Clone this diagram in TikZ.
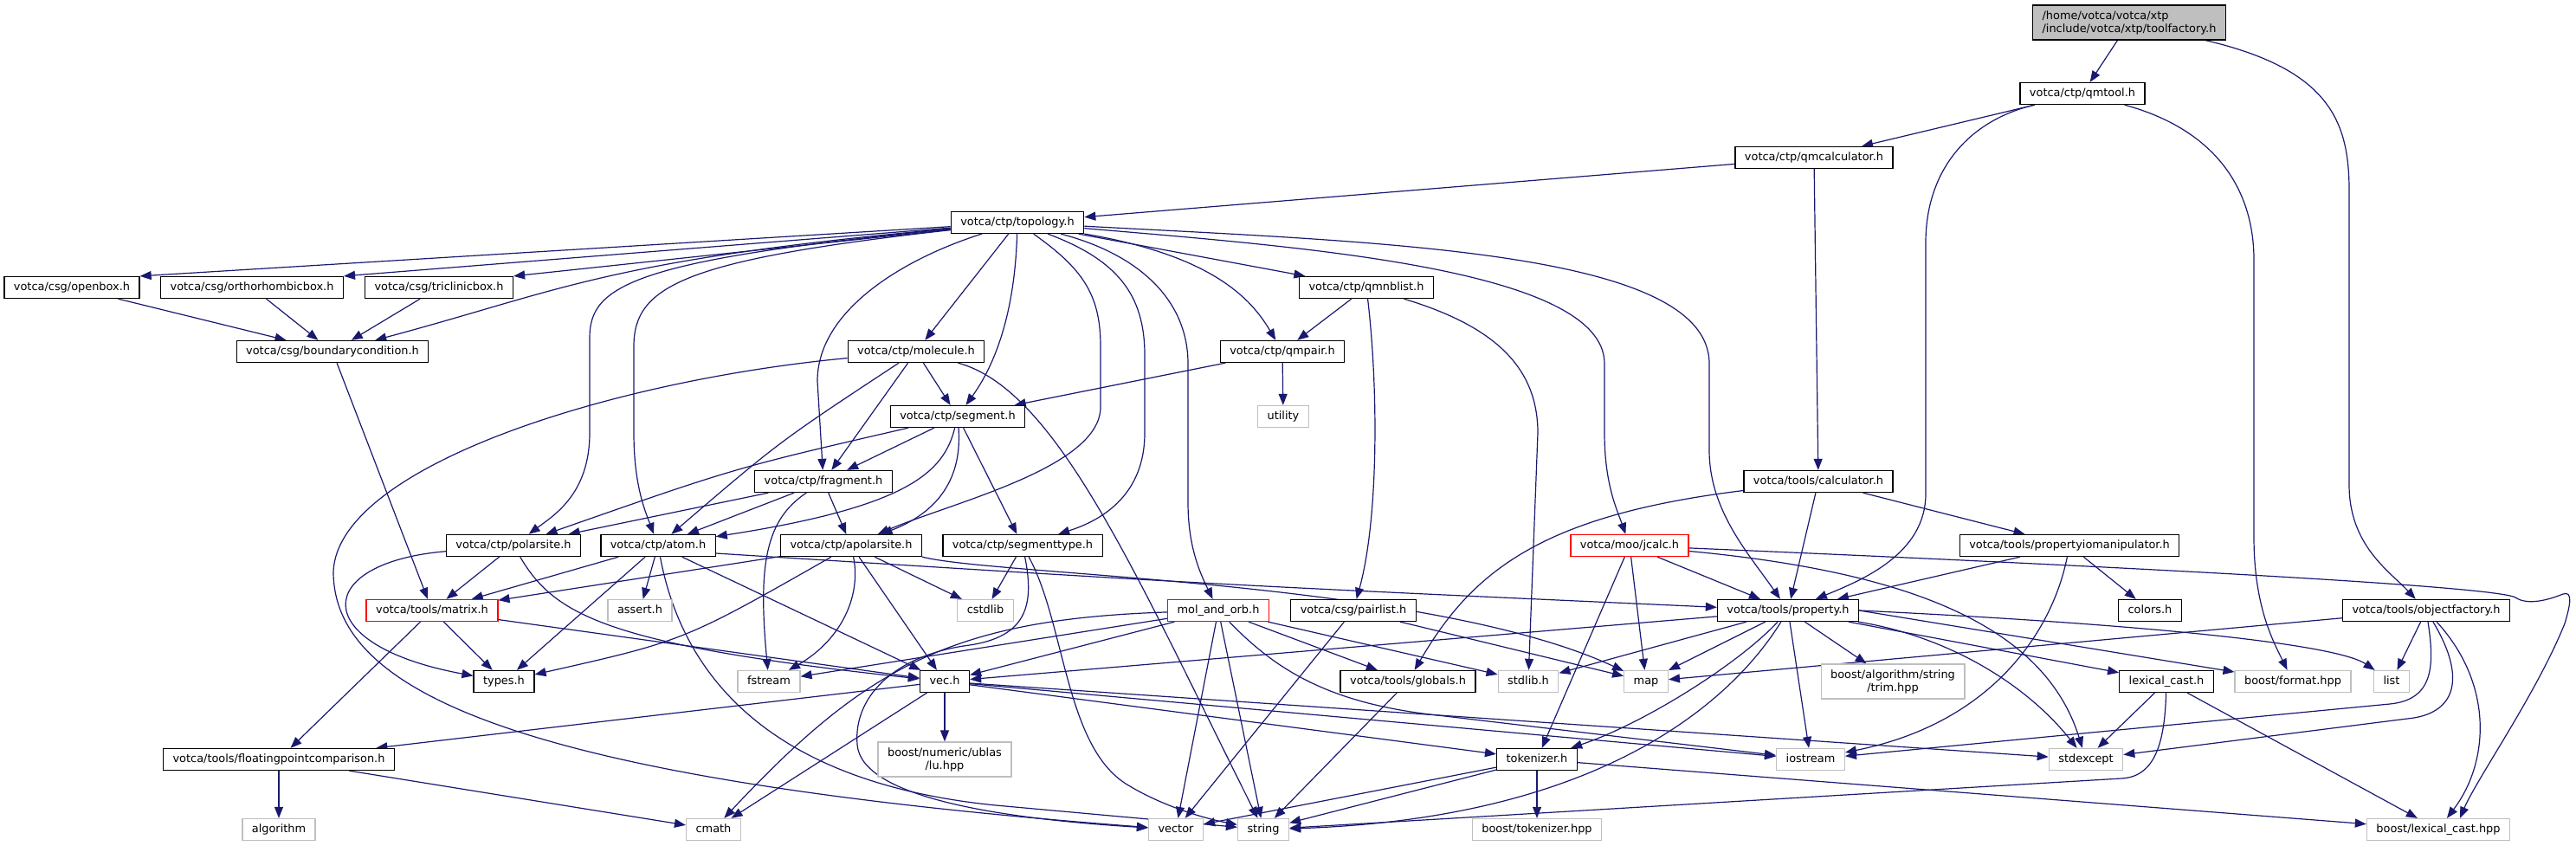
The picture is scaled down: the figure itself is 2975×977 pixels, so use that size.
\documentclass[tikz,border=0pt]{standalone}
\usepackage{fontspec}
\setmainfont{DejaVu Sans}
\usetikzlibrary{arrows.meta,backgrounds}

\definecolor{incblue}{HTML}{191970}
\definecolor{grey75}{HTML}{BFBFBF}

\tikzset{
    hdr/.style={draw=black, line width=1.3pt, fill=white, inner xsep=11pt, inner ysep=0pt,
        minimum height=25pt, text height=9.8pt, text depth=3.1pt,
        font=\fontsize{12.9pt}{15pt}\selectfont},
    sys/.style={hdr, draw=grey75},
    trunc/.style={hdr, draw=red},
    twoline/.style={text height=, text depth=, minimum height=40pt},
    root/.style={hdr, twoline, fill=grey75, align=left},
    dep/.style={incblue, line width=1.2pt, -{Triangle[length=13pt,width=10pt]}},
}

\begin{document}
\begin{tikzpicture}[x=1pt,y=-1pt]
    \useasboundingbox (0,0) rectangle (2975,977);

    % include files, row by row
    \node[root] (tf) at (2459,26) {/home/votca/votca/xtp\\/include/votca/xtp/toolfactory.h};
    \node[hdr] (qmtool) at (2405,108) {votca/ctp/qmtool.h};
    \node[hdr] (qmcalc) at (2095,182) {votca/ctp/qmcalculator.h};
    \node[hdr] (topo) at (1175,257) {votca/ctp/topology.h};

    \node[hdr] (openbox) at (83,332) {votca/csg/openbox.h};
    \node[hdr] (ortho) at (291,332) {votca/csg/orthorhombicbox.h};
    \node[hdr] (tricl) at (507,332) {votca/csg/triclinicbox.h};
    \node[hdr] (nblist) at (1578,332) {votca/ctp/qmnblist.h};

    \node[hdr] (bound) at (384,406) {votca/csg/boundarycondition.h};
    \node[hdr] (molec) at (1058,406) {votca/ctp/molecule.h};
    \node[hdr] (qmpair) at (1481,406) {votca/ctp/qmpair.h};

    \node[hdr] (segm) at (1106,481) {votca/ctp/segment.h};
    \node[sys] (utility) at (1482,481) {utility};

    \node[hdr] (frag) at (951,556) {votca/ctp/fragment.h};
    \node[hdr] (calc) at (2100,556) {votca/tools/calculator.h};

    \node[hdr] (polar) at (593,630) {votca/ctp/polarsite.h};
    \node[hdr] (atom) at (760,630) {votca/ctp/atom.h};
    \node[hdr] (apolar) at (983,630) {votca/ctp/apolarsite.h};
    \node[hdr] (segtype) at (1181,630) {votca/ctp/segmenttype.h};
    \node[trunc] (jcalc) at (1882,630) {votca/moo/jcalc.h};
    \node[hdr] (propio) at (2390,630) {votca/tools/propertyiomanipulator.h};

    \node[trunc] (matrix) at (499,705) {votca/tools/matrix.h};
    \node[sys] (assert) at (739,705) {assert.h};
    \node[sys] (cstdlib) at (1138,705) {cstdlib};
    \node[trunc] (molorb) at (1407,705) {mol\_and\_orb.h};
    \node[hdr] (pairlist) at (1563,705) {votca/csg/pairlist.h};
    \node[hdr] (prop) at (2065,705) {votca/tools/property.h};
    \node[hdr] (colors) at (2483,705) {colors.h};
    \node[hdr] (objfac) at (2802,705) {votca/tools/objectfactory.h};

    \node[hdr] (types) at (582,787) {types.h};
    \node[sys] (fstream) at (888,787) {fstream};
    \node[hdr] (vec) at (1091,787) {vec.h};
    \node[hdr] (globals) at (1626,787) {votca/tools/globals.h};
    \node[sys] (stdlib) at (1765,787) {stdlib.h};
    \node[sys] (map) at (1901,787) {map};
    \node[sys, twoline, align=center] (trim) at (2186,787) {boost/algorithm/string\\/trim.hpp};
    \node[hdr] (lexcast) at (2502,787) {lexical\_cast.h};
    \node[sys] (format) at (2648,787) {boost/format.hpp};
    \node[sys] (list) at (2762,787) {list};

    \node[hdr] (fpcomp) at (322,877) {votca/tools/floatingpointcomparison.h};
    \node[sys, twoline, align=center] (ublas) at (1091,877) {boost/numeric/ublas\\/lu.hpp};
    \node[hdr] (tokenizer) at (1775,877) {tokenizer.h};
    \node[sys] (iostream) at (2091,877) {iostream};
    \node[sys] (stdexcept) at (2409,877) {stdexcept};

    \node[sys] (algorithm) at (322,958) {algorithm};
    \node[sys] (cmath) at (824,958) {cmath};
    \node[sys] (vector) at (1358,958) {vector};
    \node[sys] (string) at (1459,958) {string};
    \node[sys] (boosttok) at (1775,958) {boost/tokenizer.hpp};
    \node[sys] (boostlex) at (2816,958) {boost/lexical\_cast.hpp};

    \begin{scope}[on background layer]
    % straight includes
    \foreach \a/\b in {tf/qmtool, qmtool/qmcalc, qmcalc/topo, qmcalc/calc, topo/molec, topo/nblist,
        openbox/bound, ortho/bound, tricl/bound, bound/matrix, molec/segm, molec/frag,
        nblist/qmpair, qmpair/segm, qmpair/utility, segm/frag, segm/segtype,
        frag/atom, frag/polar, frag/apolar, polar/matrix, atom/matrix, atom/types, atom/assert,
        atom/vec, apolar/matrix, apolar/vec, apolar/cstdlib, segtype/cstdlib,
        molorb/fstream, molorb/vec, molorb/vector, molorb/string, molorb/globals, molorb/stdlib,
        pairlist/vector, pairlist/map, calc/prop, calc/propio, jcalc/prop, jcalc/map,
        jcalc/tokenizer, propio/prop, propio/colors, prop/vec, prop/stdlib, prop/map,
        prop/iostream, prop/trim, prop/lexcast, objfac/map, objfac/list,
        matrix/types, matrix/vec, matrix/fpcomp, vec/fpcomp, vec/ublas, vec/cmath,
        vec/tokenizer, vec/iostream, vec/stdexcept, fpcomp/algorithm, fpcomp/cmath,
        globals/string, tokenizer/boosttok, tokenizer/vector, tokenizer/string,
        tokenizer/boostlex, lexcast/stdexcept, lexcast/boostlex}
        \draw[dep] (\a) -- (\b);

    % topology fan
    \draw[dep] (topo) -- (openbox.north east);
    \draw[dep] (topo) -- (ortho.north east);
    \draw[dep] (topo) -- (tricl.north east);
    \draw[dep] (topo) .. controls (700,300) and (650,335) .. (bound);
    \draw[dep] (topo) .. controls (730,300) and (681,330) .. (681,390) -- (681,500) .. controls (681,570) and (640,595) .. (polar);
    \draw[dep] (topo) .. controls (790,300) and (732,330) .. (732,400) -- (732,500) .. controls (732,560) and (745,590) .. (atom);
    \draw[dep] (topo) .. controls (1040,300) and (944,360) .. (944,440) -- (frag);
    \draw[dep] (topo) .. controls (1172,360) and (1150,420) .. (segm);
    \draw[dep] (topo) .. controls (1250,310) and (1271,340) .. (1271,400) -- (1271,470) .. controls (1271,540) and (1100,580) .. (apolar);
    \draw[dep] (topo) .. controls (1290,300) and (1322,340) .. (1322,410) -- (1322,500) .. controls (1322,570) and (1275,600) .. (segtype);
    \draw[dep] (topo) .. controls (1320,295) and (1372,350) .. (1372,420) -- (1372,580) .. controls (1372,630) and (1385,660) .. (molorb);
    \draw[dep] (topo) .. controls (1400,295) and (1445,345) .. (qmpair);
    \draw[dep] (topo) .. controls (1500,285) and (1853,310) .. (1853,420) -- (1853,500) .. controls (1853,560) and (1868,590) .. (jcalc);
    \draw[dep] (topo) .. controls (1600,280) and (1974,290) .. (1974,420) -- (1974,520) .. controls (1974,590) and (2020,640) .. (prop);

    % long ones from the top
    \draw[dep] (tf) .. controls (2690,80) and (2713,140) .. (2713,220) -- (2713,560) .. controls (2713,630) and (2760,660) .. (objfac);
    \draw[dep] (qmtool) .. controls (2270,140) and (2224,200) .. (2224,280) -- (2224,570) .. controls (2224,640) and (2150,670) .. (prop);
    \draw[dep] (qmtool) .. controls (2560,150) and (2603,220) .. (2603,300) -- (2603,620) .. controls (2603,700) and (2625,740) .. (format);
    \draw[dep] (nblist) .. controls (1592,450) and (1592,600) .. (pairlist);
    \draw[dep] (nblist) .. controls (1720,375) and (1776,420) .. (1776,500) -- (stdlib);

    % middle rows
    \draw[dep] (molec) .. controls (900,510) .. (atom);
    \draw[dep] (molec) .. controls (700,440) and (390,540) .. (385,660) .. controls (385,800) and (600,900) .. (vector);
    \draw[dep] (molec) .. controls (1220,450) and (1310,660) .. (string);
    \draw[dep] (segm) .. controls (850,540) .. (polar);
    \draw[dep] (segm) .. controls (1090,545) and (1050,585) .. (atom);
    \draw[dep] (segm) .. controls (1112,560) and (1075,595) .. (apolar);
    \draw[dep] (frag) .. controls (885,600) and (875,650) .. (fstream);
    \draw[dep] (polar) .. controls (360,650) and (355,745) .. (types);
    \draw[dep] (polar) .. controls (640,710) and (700,745) .. (vec);
    \draw[dep] ([yshift=-9pt]atom.east) .. controls (1400,675) .. (prop);
    \draw[dep] (atom) .. controls (790,790) and (900,905) .. (1150,930) -- (string);
    \draw[dep] (apolar) .. controls (790,740) .. (types);
    \draw[dep] (apolar) .. controls (995,690) and (970,740) .. (fstream);
    \draw[dep] (apolar.south east) .. controls (1150,665) and (1650,670) .. (map);
    \draw[dep] (segtype) .. controls (1195,700) and (1185,735) .. (1120,745) .. controls (1040,755) and (985,800) .. (990,860) .. controls (995,920) and (1150,945) .. (vector);
    \draw[dep] (segtype) .. controls (1230,720) and (1230,860) .. (1300,905) .. controls (1340,930) and (1390,945) .. (string);
    \draw[dep] (molorb) .. controls (1100,715) and (1000,770) .. (cmath);
    \draw[dep] (molorb) .. controls (1470,770) and (1530,812) .. (1660,826) -- (iostream);
    \draw[dep] (calc) .. controls (1780,595) and (1700,660) .. (globals);
    \draw[dep] (jcalc) .. controls (2200,660) and (2360,720) .. (stdexcept);
    \draw[dep] (jcalc) .. controls (2400,652) and (2880,676) .. (2905,690) .. controls (2920,700) and (2945,692) .. (2960,686)
        .. controls (2972,682) and (2968,700) .. (2962,720) .. controls (2930,800) and (2860,900) .. ([xshift=25pt]boostlex.north);

    % property and friends
    \draw[dep] (prop) .. controls (2010,765) and (1900,835) .. (tokenizer);
    \draw[dep] (prop) .. controls (2000,810) and (1850,945) .. (string);
    \draw[dep] (prop) .. controls (2250,735) and (2340,790) .. (stdexcept);
    \draw[dep] (prop.east) -- (format);
    \draw[dep] (prop.east) .. controls (2500,722) and (2700,745) .. (list);
    \draw[dep] (propio) .. controls (2370,730) and (2300,835) .. (iostream);
    \draw[dep] (objfac) .. controls (2812,770) and (2810,808) .. (2760,813) -- (iostream);
    \draw[dep] (objfac) .. controls (2850,785) and (2835,825) .. (2780,830) -- (stdexcept);
    \draw[dep] (objfac) .. controls (2880,790) and (2875,880) .. (boostlex);
    \draw[dep] (lexcast) .. controls (2500,855) and (2490,897) .. (2450,899) -- (string);
    \end{scope}
\end{tikzpicture}
\end{document}
